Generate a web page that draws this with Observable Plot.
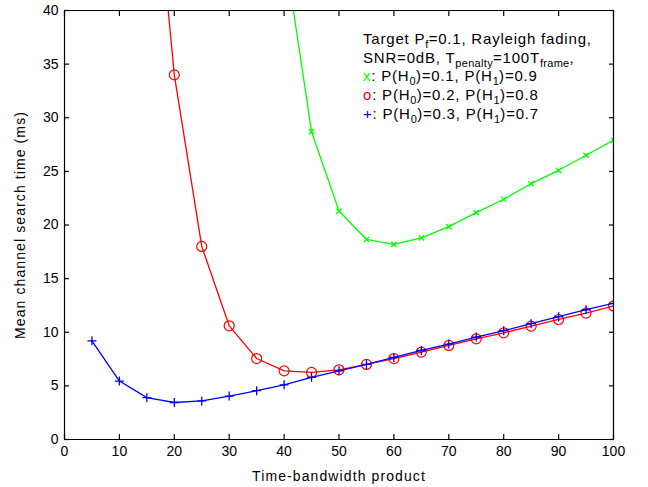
<!DOCTYPE html>
<html><head><meta charset="utf-8">
<script src="https://cdn.jsdelivr.net/npm/d3@7"></script>
<script src="https://cdn.jsdelivr.net/npm/@observablehq/plot@0.6"></script>
<style>html,body{margin:0;padding:0;background:#fff;overflow:hidden} #chart{width:648px}</style>
</head><body><div id="chart"></div>
<script>
// Data
const xGreen = [40, 45, 50, 55, 60, 65, 70, 75, 80, 85, 90, 95, 100];
const yGreen = [45.8, 28.7, 21.3, 18.65, 18.2, 18.8, 19.85, 21.15, 22.4, 23.85, 25.1, 26.5, 27.9];
const xRed = [15, 20, 25, 30, 35, 40, 45, 50, 55, 60, 65, 70, 75, 80, 85, 90, 95, 100];
const yRed = [61, 34, 18, 10.6, 7.55, 6.4, 6.25, 6.5, 7.0, 7.55, 8.15, 8.77, 9.39, 9.95, 10.57, 11.19, 11.78, 12.45];
const xBlue = [5, 10, 15, 20, 25, 30, 35, 40, 45, 50, 55, 60, 65, 70, 75, 80, 85, 90, 95, 100];
const yBlue = [9.2, 5.45, 3.9, 3.45, 3.6, 4.05, 4.55, 5.1, 5.8, 6.4, 7.0, 7.65, 8.3, 8.9, 9.55, 10.15, 10.8, 11.45, 12.1, 12.7];
const xTicks = [0, 10, 20, 30, 40, 50, 60, 70, 80, 90, 100];
const yTicks = [0, 5, 10, 15, 20, 25, 30, 35, 40];
const xDomain = [0, 100];
const yDomain = [0, 40];
const xLabel = "Time-bandwidth product";
const yLabel = "Mean channel search time (ms)";

const zip = (xs, ys) => xs.map((x, i) => ({x, y: ys[i]}));
const green = zip(xGreen, yGreen), red = zip(xRed, yRed), blue = zip(xBlue, yBlue);
const blank = () => "";
const tickStyle = {stroke: "#000", strokeWidth: 1.2, strokeOpacity: 1};

const svg = Plot.plot({
  width: 648, height: 487,
  marginLeft: 64, marginRight: 35, marginTop: 10, marginBottom: 48,
  style: {fontFamily: "'Liberation Sans', Arial, sans-serif", fontSize: "14px"},
  x: {domain: xDomain},
  y: {domain: yDomain},
  marks: [
    Plot.axisX(xTicks, {anchor: "bottom", tickSize: 0, tickPadding: 7, label: null}),
    Plot.axisX(xTicks, {anchor: "bottom", tickSize: -5, tickFormat: blank, label: null, ...tickStyle}),
    Plot.axisX(xTicks, {anchor: "top", tickSize: -5, tickFormat: blank, label: null, ...tickStyle}),
    Plot.axisY(yTicks, {anchor: "left", tickSize: 0, tickPadding: 6, label: null}),
    Plot.axisY(yTicks, {anchor: "left", tickSize: -5, tickFormat: blank, label: null, ...tickStyle}),
    Plot.axisY(yTicks, {anchor: "right", tickSize: -5, tickFormat: blank, label: null, ...tickStyle}),
    Plot.text([xLabel], {frameAnchor: "bottom", dy: 41, lineAnchor: "bottom", textAnchor: "middle", text: d => d, fill: "#000"}),
    Plot.text([yLabel], {frameAnchor: "left", dx: -44, rotate: -90, textAnchor: "middle", text: d => d, fill: "#000"}),
    Plot.line(green, {x: "x", y: "y", stroke: "#00ff00", strokeWidth: 1.3, clip: true}),
    Plot.dot(green, {x: "x", y: "y", symbol: "times", r: 2.5, stroke: "#00ff00", strokeWidth: 1.3, clip: true}),
    Plot.line(red, {x: "x", y: "y", stroke: "#ff0000", strokeWidth: 1.3, clip: true}),
    Plot.dot(red, {x: "x", y: "y", symbol: "circle", r: 5, fill: "none", stroke: "#ff0000", strokeWidth: 1.2, clip: true}),
    Plot.line(blue, {x: "x", y: "y", stroke: "#0000ff", strokeWidth: 1.3, clip: true}),
    Plot.dot(blue, {x: "x", y: "y", symbol: "plus", r: 3, stroke: "#0000ff", strokeWidth: 1.3, clip: true}),
    Plot.ruleX(xDomain, {stroke: "#000", strokeWidth: 1.2}),
    Plot.ruleY(yDomain, {stroke: "#000", strokeWidth: 1.2}),
    Plot.frame({stroke: "#000", strokeWidth: 1})
  ]
});

const s = d3.select(svg);
s.selectAll("text").filter(function() { return this.textContent === xLabel || this.textContent === yLabel; })
  .style("letter-spacing", "1.1px");

// Legend (text annotation inside plot)
const legend = s.append("g")
  .attr("font-family", "'Liberation Sans', Arial, sans-serif")
  .attr("font-size", 15)
  .attr("fill", "#000")
  .attr("text-anchor", "start")
  .style("letter-spacing", "0.8px");
const lx = 363, ly0 = 44, dyLine = 18.7;
const lines = [
  [["Target P"], ["f", "sub"], ["=0.1, Rayleigh fading,"]],
  [["SNR=0dB, T"], ["penalty", "sub"], ["=100T"], ["frame", "sub"], [","]],
  [["x", null, "#00ff00"], [": P(H"], ["0", "sub"], [")=0.1, P(H"], ["1", "sub"], [")=0.9"]],
  [["o", null, "#ff0000"], [": P(H"], ["0", "sub"], [")=0.2, P(H"], ["1", "sub"], [")=0.8"]],
  [["+", null, "#0000ff"], [": P(H"], ["0", "sub"], [")=0.3, P(H"], ["1", "sub"], [")=0.7"]]
];
lines.forEach((parts, i) => {
  const t = legend.append("text").attr("x", lx).attr("y", ly0 + i * dyLine);
  let prevSub = false;
  parts.forEach(([str, kind, color]) => {
    const ts = t.append("tspan").text(str);
    if (kind === "sub") { ts.attr("dy", 4).attr("font-size", 11).style("letter-spacing", "0.3px"); prevSub = true; }
    else if (prevSub) { ts.attr("dy", -4); prevSub = false; }
    if (color) ts.attr("fill", color);
  });
});

document.getElementById("chart").appendChild(svg);
</script>
</body></html>
